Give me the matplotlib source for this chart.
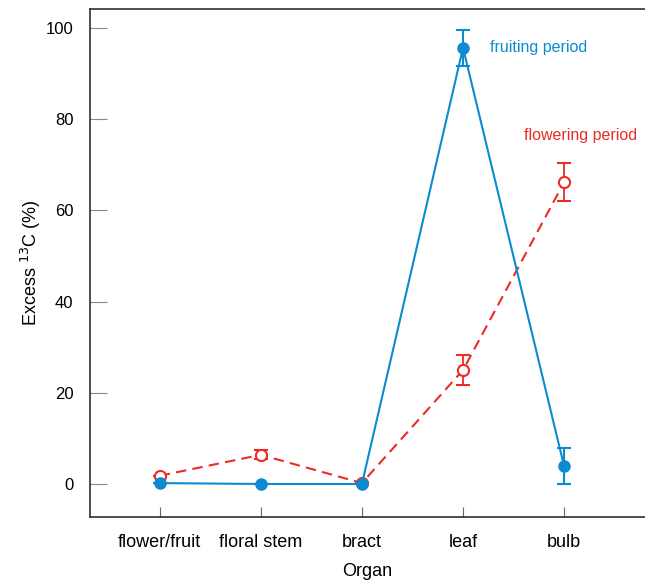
import matplotlib
matplotlib.use("Agg")
import matplotlib.pyplot as plt

plt.rcParams['font.family'] = ['Liberation Sans', 'DejaVu Sans']

organs = ['flower/fruit', 'floral stem', 'bract', 'leaf', 'bulb']
fruiting = [0.2, 0.0, 0.0, 95.7, 3.9]
fruiting_err = [0.0, 0.0, 0.0, 4.0, 4.0]
flowering = [1.8, 6.4, 0.2, 25.0, 66.2]
flowering_err = [0.0, 1.0, 0.0, 3.2, 4.2]

blue = '#0b8bd0'
red = '#ec2b25'

fig = plt.figure(figsize=(6.45, 5.82), dpi=100)
ax = fig.add_axes([0.1395, 0.1117, 0.8605, 0.8728])

x = list(range(len(organs)))

ax.errorbar(x, flowering, yerr=flowering_err, color=red, ls='--', lw=1.5,
            dashes=(5, 3), marker='o', ms=8, mfc='white', mec=red, mew=1.5,
            capsize=5, elinewidth=1.3, capthick=1.3, zorder=2)
ax.errorbar(x, fruiting, yerr=fruiting_err, color=blue, ls='-', lw=1.5,
            marker='o', ms=8, mfc=blue, mec=blue,
            capsize=5, elinewidth=1.5, capthick=1.5, zorder=3)

ax.text(3.27, 95.7, 'fruiting period', color=blue, fontsize=11.5, va='center')
ax.text(3.6, 76.5, 'flowering period', color=red, fontsize=11.5, va='center')

ax.set_xlim(-0.69, 4.8)
ax.set_ylim(-7.24, 104.2)
ax.set_xticks(x)
ax.set_xticklabels(organs, fontsize=13)
ax.set_yticks([0, 20, 40, 60, 80, 100])
ax.tick_params(axis='y', direction='in', length=12, color='#888888',
               labelsize=12, pad=12)
ax.tick_params(axis='x', direction='in', length=7, color='#666666',
               labelsize=13, pad=12)

for side in ['left', 'top', 'bottom']:
    ax.spines[side].set_color('#3b2b2b')
    ax.spines[side].set_linewidth(1.2)
ax.spines['right'].set_visible(False)

ax.set_xlabel('Organ', fontsize=13, labelpad=9)
ax.set_ylabel('Excess $^{13}$C (%)', fontsize=13, labelpad=2)

fig.savefig('out.png', dpi=100)
